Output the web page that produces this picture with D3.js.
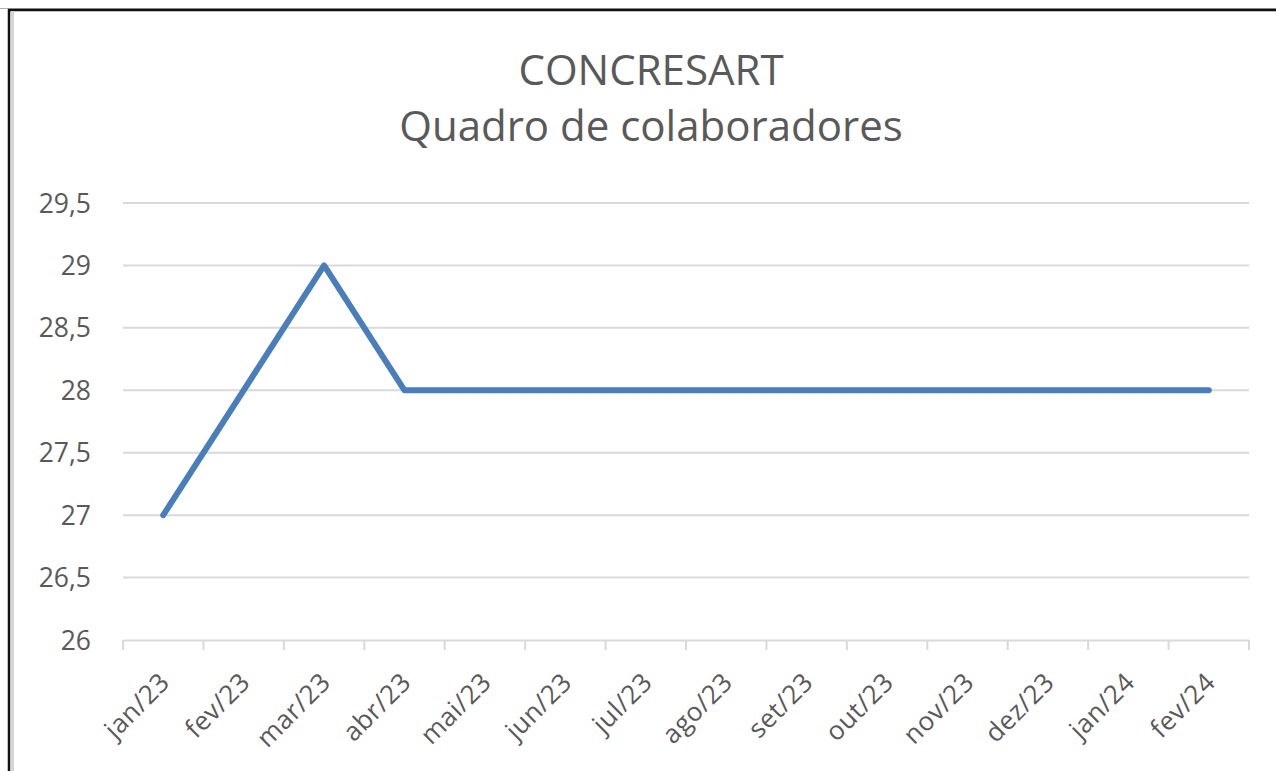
<!DOCTYPE html>
<html><head><meta charset="utf-8">
<script src="https://cdn.jsdelivr.net/npm/d3@7"></script>
<style>
html,body{margin:0;padding:0;background:#fff;}
svg{display:block;}
</style></head>
<body>
<svg id="c" width="1276" height="771"></svg>
<script>
const categories = ["jan/23","fev/23","mar/23","abr/23","mai/23","jun/23","jul/23","ago/23","set/23","out/23","nov/23","dez/23","jan/24","fev/24"];
const values = [27,28,29,28,28,28,28,28,28,28,28,28,28,28];
const yTicks = [26,26.5,27,27.5,28,28.5,29,29.5];
const titleLines = ["CONCRESART","Quadro de colaboradores"];

const svg = d3.select("#c");
const font = "'Open Sans', 'Liberation Sans', sans-serif";
const textColor = "#595959";

// frame
svg.append("line").attr("x1",0).attr("x2",1276).attr("y1",8.5).attr("y2",8.5).attr("stroke","#b0b0b0").attr("stroke-width",1);
svg.append("line").attr("x1",8).attr("x2",1276).attr("y1",10).attr("y2",10).attr("stroke","#111").attr("stroke-width",2.5);
svg.append("line").attr("x1",9).attr("x2",9).attr("y1",9).attr("y2",771).attr("stroke","#111").attr("stroke-width",2.5);
svg.append("line").attr("x1",12.5).attr("x2",12.5).attr("y1",11).attr("y2",771).attr("stroke","#d4d4d4").attr("stroke-width",3);

const x = d3.scaleBand().domain(categories).range([123,1249]).padding(0);
const y = d3.scaleLinear().domain([26,29.5]).range([640,203]);

// gridlines
svg.append("g").selectAll("line").data(yTicks.filter(d=>d!==26)).join("line")
  .attr("x1",123).attr("x2",1249)
  .attr("y1",d=>y(d)).attr("y2",d=>y(d))
  .attr("stroke","#d9d9d9").attr("stroke-width",2);

// y axis labels
const fmt = d => String(d).replace(".",",");
svg.append("g").selectAll("text").data(yTicks).join("text")
  .attr("x",91).attr("y",d=>y(d)).attr("dy","0.36em")
  .attr("text-anchor","end").attr("font-family",font).attr("font-size",26.5)
  .attr("fill",textColor).text(fmt);

// x axis
const xAxis = d3.axisBottom(x).tickSize(0).tickFormat("");
const gx = svg.append("g").attr("transform",`translate(0,${y(26)})`).call(xAxis);
gx.select(".domain").attr("stroke","#d9d9d9").attr("stroke-width",2);
// category boundary tick marks
const bounds = categories.map(c=>x(c)).concat([x(categories[categories.length-1])+x.bandwidth()]);
svg.append("g").selectAll("line").data(bounds).join("line")
  .attr("x1",d=>d).attr("x2",d=>d).attr("y1",y(26)).attr("y2",y(26)+10)
  .attr("stroke","#d9d9d9").attr("stroke-width",2);

// x labels
svg.append("g").selectAll("text").data(categories).join("text")
  .attr("transform",d=>`translate(${x(d)+x.bandwidth()/2+8},${y(26)+44}) rotate(-45)`)
  .attr("text-anchor","end").attr("font-family",font).attr("font-size",26)
  .attr("letter-spacing",0.5)
  .attr("fill",textColor).text(d=>d);

// line
const line = d3.line().x((d,i)=>x(categories[i])+x.bandwidth()/2).y(d=>y(d));
svg.append("path").datum(values).attr("d",line)
  .attr("fill","none").attr("stroke","#4a7ebb").attr("stroke-width",6)
  .attr("stroke-linecap","round").attr("stroke-linejoin","round");

// title
svg.append("text").attr("x",651).attr("y",85).attr("text-anchor","middle")
  .attr("font-family",font).attr("font-size",42).attr("fill",textColor).text(titleLines[0]);
svg.append("text").attr("x",651).attr("y",141).attr("text-anchor","middle")
  .attr("font-family",font).attr("font-size",42).attr("fill",textColor).text(titleLines[1]);
</script>
</body></html>
